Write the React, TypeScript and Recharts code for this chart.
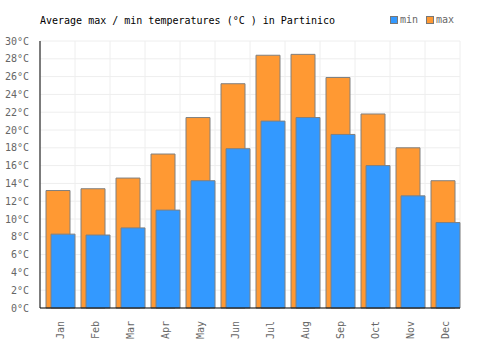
import React from 'react';
import { BarChart, Bar, XAxis, YAxis, CartesianGrid } from 'recharts';

const months = ['Jan', 'Feb', 'Mar', 'Apr', 'May', 'Jun', 'Jul', 'Aug', 'Sep', 'Oct', 'Nov', 'Dec'];
const minTemps = [8.3, 8.2, 9.0, 11.0, 14.3, 17.9, 21.0, 21.4, 19.5, 16.0, 12.6, 9.6];
const maxTemps = [13.2, 13.4, 14.6, 17.3, 21.4, 25.2, 28.4, 28.5, 25.9, 21.8, 18.0, 14.3];
const yTicks = [0, 2, 4, 6, 8, 10, 12, 14, 16, 18, 20, 22, 24, 26, 28, 30];

const MIN_COLOR = '#3399ff';
const MAX_COLOR = '#ff9933';
const FONT = '"DejaVu Sans Mono", monospace';

const data = months.map((m, i) => ({ month: m, min: minTemps[i], max: maxTemps[i] }));

const MonthTick = ({ x, y, payload }: any) => (
  <text
    x={x}
    y={y}
    transform={`rotate(-90, ${x}, ${y})`}
    textAnchor="end"
    dominantBaseline="central"
    fontSize={10}
    fontFamily={FONT}
    fill="#666"
  >
    {payload.value}
  </text>
);

const LegendItem = ({ color, label }: { color: string; label: string }) => (
  <span style={{ display: 'inline-flex', alignItems: 'center', marginLeft: 8 }}>
    <span
      style={{
        width: 6,
        height: 6,
        background: color,
        border: '1px solid #777',
        display: 'inline-block',
        marginRight: 2,
      }}
    />
    <span style={{ color: '#666' }}>{label}</span>
  </span>
);

export default function App() {
  return (
    <div
      style={{
        position: 'absolute',
        top: 0,
        left: 0,
        width: 500,
        height: 350,
        background: '#fff',
        fontFamily: FONT,
        fontSize: 10,
      }}
    >
      <div style={{ position: 'absolute', left: 40, top: 15, color: '#000' }}>
        Average max / min temperatures (°C ) in Partinico
      </div>
      <div style={{ position: 'absolute', left: 382, top: 14, display: 'flex' }}>
        <LegendItem color={MIN_COLOR} label="min" />
        <LegendItem color={MAX_COLOR} label="max" />
      </div>
      <BarChart
        width={500}
        height={350}
        data={data}
        margin={{ top: 41, right: 40, bottom: 0, left: 0 }}
        barSize={24}
        barGap={-19}
      >
        <CartesianGrid
          stroke="#eeeeee"
          verticalCoordinatesGenerator={({ offset }: any) =>
            months.map((_, i) => offset.left + (i * offset.width) / months.length).concat(offset.left + offset.width)
          }
        />
        <XAxis
          dataKey="month"
          height={42}
          tickLine={false}
          axisLine={{ stroke: '#000' }}
          tick={<MonthTick />}
          tickMargin={7}
          padding={{ left: 3, right: -3 }}
          interval={0}
        />
        <YAxis
          width={40}
          domain={[0, 30]}
          ticks={yTicks}
          tickFormatter={(v) => `${v}°C`}
          tickLine={false}
          axisLine={{ stroke: '#000' }}
          tickMargin={5}
          tick={{ fontSize: 10, fontFamily: FONT, fill: '#666' }}
          interval={0}
        />
        <Bar dataKey="max" fill={MAX_COLOR} stroke="#808080" strokeWidth={1} isAnimationActive={false} />
        <Bar dataKey="min" fill={MIN_COLOR} stroke="#808080" strokeWidth={1} isAnimationActive={false} />
      </BarChart>
    </div>
  );
}
